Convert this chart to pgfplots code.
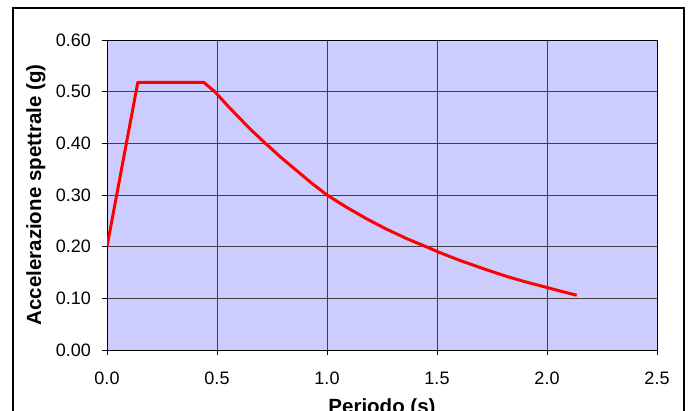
\documentclass[border=0pt]{standalone}
\usepackage{pgfplots}
\pgfplotsset{compat=1.18}
\usepackage{fontspec}
\setmainfont{Liberation Sans}
\definecolor{plotbg}{RGB}{204,204,255}
\begin{document}
\begin{tikzpicture}[x=1pt,y=1pt]
\useasboundingbox (0,0) rectangle (691,410);
\begin{scope}
\clip (0,0) rectangle (691,410);
\draw[black, line width=1.2pt] (13,-20) rectangle (684,402);
\begin{axis}[
  at={(107pt,60pt)}, anchor=south west,
  scale only axis, width=550pt, height=310pt,
  xmin=0, xmax=2.5, ymin=0, ymax=0.6,
  xtick={0,0.5,...,2.5}, ytick={0,0.1,...,0.6},
  grid=major,
  major grid style={black!75, line width=0.8pt},
  axis background/.style={fill=plotbg},
  axis line style={black, line width=0.8pt},
  tick align=outside, tick pos=left,
  major tick length=5pt,
  tick style={black, line width=0.8pt},
  font=\fontsize{18}{21}\selectfont,
  /pgf/number format/assume math mode=true,
  xticklabel style={font=\fontsize{18}{21}\selectfont, /pgf/number format/fixed, /pgf/number format/fixed zerofill, /pgf/number format/precision=1, anchor=north, inner sep=0pt, yshift=-17pt},
  yticklabel style={font=\fontsize{18}{21}\selectfont, /pgf/number format/fixed, /pgf/number format/fixed zerofill, /pgf/number format/precision=2, anchor=east, inner sep=0pt, xshift=-11pt},
  xlabel={Periodo (s)},
  ylabel={Accelerazione spettrale (g)},
  label style={font=\fontsize{20.5}{24}\selectfont\bfseries, inner sep=0pt},
  xlabel style={at={(axis description cs:0.5,-0.155)}, anchor=north},
  ylabel style={at={(axis description cs:-0.12,0.5)}, anchor=base},
]
\addplot[red, line width=3pt, line join=round] coordinates {
  (0,0.200) (0.14,0.518) (0.44,0.518) (0.49,0.500) (0.55,0.472)
  (0.60,0.450) (0.65,0.428) (0.72,0.400) (0.79,0.373) (0.86,0.348)
  (0.93,0.323) (1.00,0.300) (1.09,0.276) (1.18,0.254) (1.27,0.234)
  (1.36,0.216) (1.45,0.200) (1.51,0.189) (1.60,0.174) (1.70,0.159)
  (1.82,0.142) (1.91,0.131) (2.00,0.121) (2.07,0.113) (2.135,0.106)
};
\end{axis}
\end{scope}
\end{tikzpicture}
\end{document}
